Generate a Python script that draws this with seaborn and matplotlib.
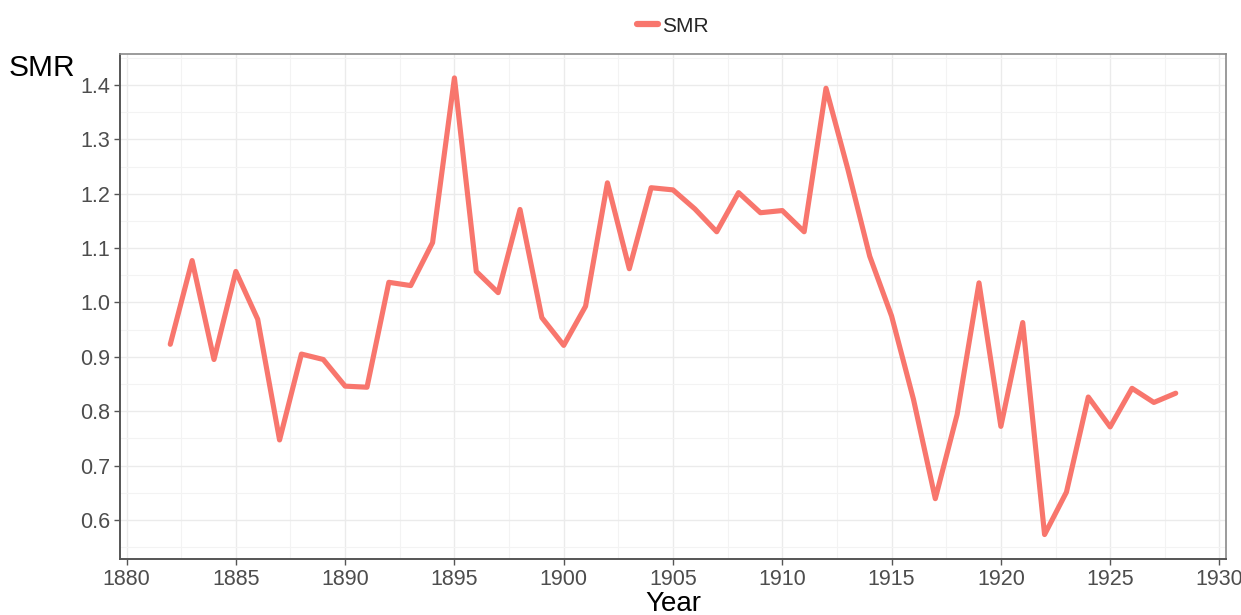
import matplotlib
matplotlib.use("Agg")
import matplotlib.pyplot as plt
from matplotlib.ticker import MultipleLocator
import pandas as pd
import seaborn as sns

# SMR by year
years = list(range(1882, 1929))
smr = [0.923, 1.077, 0.895, 1.057, 0.969, 0.747, 0.905, 0.895, 0.846, 0.844,
       1.037, 1.031, 1.110, 1.413, 1.057, 1.018, 1.171, 0.972, 0.921, 0.993,
       1.220, 1.062, 1.211, 1.207, 1.172, 1.130, 1.202, 1.165, 1.169, 1.130,
       1.394, 1.245, 1.085, 0.975, 0.822, 0.639, 0.794, 1.036, 0.772, 0.963,
       0.573, 0.651, 0.826, 0.771, 0.842, 0.816, 0.833]

df = pd.DataFrame({"Year": years, "SMR": smr, "series": "SMR"})

sns.set_theme(style="white")
plt.rcParams["font.family"] = ["Liberation Sans", "DejaVu Sans"]

fig = plt.figure(figsize=(12.41, 6.15), dpi=100)
ax = fig.add_axes([120 / 1241, 1 - 559 / 615, 1106 / 1241, 505 / 615])

sns.lineplot(data=df, x="Year", y="SMR", hue="series", palette=["#F8766D"],
             linewidth=3.7, ax=ax)

ax.set_xlim(1879.7, 1930.3)
ax.set_ylim(0.528, 1.457)
ax.xaxis.set_major_locator(MultipleLocator(5))
ax.xaxis.set_minor_locator(MultipleLocator(2.5))
ax.yaxis.set_major_locator(MultipleLocator(0.1))
ax.yaxis.set_minor_locator(MultipleLocator(0.05))
ax.yaxis.set_major_formatter(matplotlib.ticker.FormatStrFormatter("%.1f"))

ax.grid(which="major", color="#EBEBEB", linewidth=1.0)
ax.grid(which="minor", color="#F3F3F3", linewidth=0.8)
ax.set_axisbelow(True)

for side in ["top", "right"]:
    ax.spines[side].set_color("#8A8A8A")
    ax.spines[side].set_linewidth(1.2)
for side in ["left", "bottom"]:
    ax.spines[side].set_color("#555555")
    ax.spines[side].set_linewidth(1.4)

ax.tick_params(which="major", axis="both", direction="out", length=4, width=1,
               color="#555555", labelsize=15.5, labelcolor="#4D4D4D",
               left=True, bottom=True, pad=3)
ax.tick_params(which="minor", length=0)

ax.set_xlabel("Year", fontsize=20, color="black", labelpad=1)
ax.set_ylabel("")
fig.text(9 / 1241, 1 - 68 / 615, "SMR", fontsize=21.5, color="black",
         ha="left", va="center")

leg = ax.legend(loc="lower center", bbox_to_anchor=(0.5, 1.02), frameon=False,
                fontsize=15, handlelength=1.0, handletextpad=0.2,
                borderaxespad=0)
for line in leg.get_lines():
    line.set_linewidth(4.5)

fig.savefig("out.png", dpi=100)
